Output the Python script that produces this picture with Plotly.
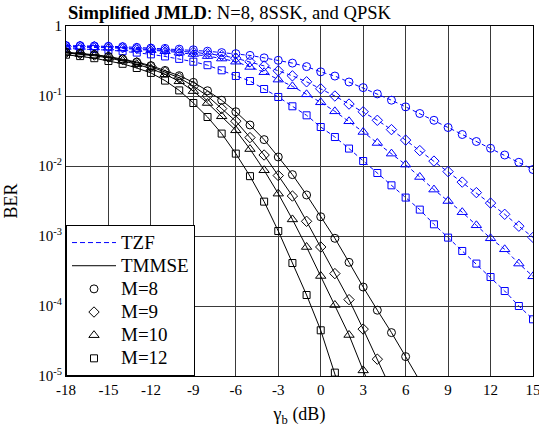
import plotly.graph_objects as go

# SNR grid (dB)
snr_db = list(range(-18, 16))

# BER values, stored as log10(BER)
tzf_m8_log = [-0.28, -0.28, -0.285, -0.29, -0.295, -0.305, -0.315, -0.32, -0.33, -0.34,
              -0.36, -0.38, -0.395, -0.42, -0.455, -0.49, -0.53, -0.58,
              -0.655, -0.715, -0.80, -0.88, -0.97, -1.06, -1.155, -1.25, -1.347, -1.45,
              -1.55, -1.65, -1.747, -1.843, -1.947, -2.05]
tzf_m9_log = [-0.29, -0.29, -0.295, -0.30, -0.31, -0.32, -0.33, -0.345, -0.36, -0.375,
              -0.395, -0.42, -0.46, -0.51, -0.57, -0.64, -0.712, -0.797,
              -0.897, -1.0, -1.115, -1.225, -1.347, -1.48, -1.63, -1.78, -1.93, -2.08,
              -2.23, -2.38, -2.53, -2.69, -2.86, -3.02]
tzf_m10_log = [-0.30, -0.30, -0.305, -0.31, -0.32, -0.33, -0.345, -0.36, -0.38, -0.40,
               -0.43, -0.465, -0.51, -0.585, -0.66, -0.766, -0.861, -0.976,
               -1.09, -1.219, -1.361, -1.514, -1.671, -1.823, -1.98, -2.157, -2.337, -2.5,
               -2.66, -2.847, -3.033, -3.19, -3.394, -3.576]
tzf_m12_log = [-0.32, -0.325, -0.33, -0.345, -0.36, -0.38, -0.405, -0.435, -0.47, -0.51,
               -0.56, -0.633, -0.714, -0.786, -0.90, -1.014, -1.147, -1.276,
               -1.443, -1.586, -1.751, -1.929, -2.1, -2.276, -2.451, -2.623, -2.833, -3.023,
               -3.214, -3.394, -3.586, -3.786, -4.0, -4.19]

tmmse_m8_log = [-0.375, -0.39, -0.41, -0.435, -0.47, -0.515, -0.566, -0.635, -0.71, -0.805,
                -0.925, -1.061, -1.225, -1.414, -1.623, -1.871, -2.123, -2.414,
                -2.725, -3.033, -3.376, -3.729, -4.06, -4.38, -4.723, -5.07]
tmmse_m9_log = [-0.38, -0.395, -0.415, -0.445, -0.48, -0.525, -0.58, -0.655, -0.74, -0.86,
                -1.0, -1.18, -1.36, -1.594, -1.843, -2.137, -2.429, -2.79,
                -3.157, -3.537, -3.909, -4.33, -4.76, -5.2]
tmmse_m10_log = [-0.385, -0.40, -0.425, -0.455, -0.495, -0.545, -0.61, -0.69, -0.79, -0.93,
                 -1.1, -1.29, -1.49, -1.758, -2.061, -2.395, -2.763, -3.157,
                 -3.571, -3.986, -4.414, -4.92, -5.4]
tmmse_m12_log = [-0.41, -0.43, -0.46, -0.50, -0.54, -0.60, -0.67, -0.78, -0.92, -1.10,
                 -1.30, -1.537, -1.823, -2.145, -2.509, -2.929, -3.386, -3.843,
                 -4.347, -4.952, -5.6]

x_ticks = [-18, -15, -12, -9, -6, -3, 0, 3, 6, 9, 12, 15]
y_tickvals = [1e-5, 1e-4, 1e-3, 1e-2, 1e-1, 1]
y_ticktext = ["10<sup>-5</sup>", "10<sup>-4</sup>", "10<sup>-3</sup>",
              "10<sup>-2</sup>", "10<sup>-1</sup>", "1"]

series_labels = ["M=8", "M=9", "M=10", "M=12"]
symbols = ["circle-open", "diamond-open", "triangle-up-open", "square-open"]
msizes = [8, 8, 9, 7]

FONT = "Liberation Serif, Times New Roman, serif"
BLUE = "#0000ff"

fig = go.Figure()

tzf_sets = [tzf_m8_log, tzf_m9_log, tzf_m10_log, tzf_m12_log]
mmse_sets = [tmmse_m8_log, tmmse_m9_log, tmmse_m10_log, tmmse_m12_log]

for vals, sym, ms in zip(tzf_sets, symbols, msizes):
    fig.add_trace(go.Scatter(
        x=snr_db[:len(vals)], y=[10 ** v for v in vals], mode="lines+markers",
        line=dict(color=BLUE, width=1, dash="4px,3px"),
        marker=dict(symbol=sym, size=ms, color=BLUE, line=dict(width=1, color=BLUE)),
        showlegend=False))

for vals, sym, ms in zip(mmse_sets, symbols, msizes):
    fig.add_trace(go.Scatter(
        x=snr_db[:len(vals)], y=[10 ** v for v in vals], mode="lines+markers",
        line=dict(color="black", width=1),
        marker=dict(symbol=sym, size=ms, color="black", line=dict(width=1, color="black")),
        showlegend=False))


def big(txt):
    return '<span style="font-size:19px">' + txt + '</span>'


# legend entries
fig.add_trace(go.Scatter(x=[None], y=[None], mode="lines", name=big("TZF"),
                         line=dict(color=BLUE, width=1, dash="5px,3px")))
fig.add_trace(go.Scatter(x=[None], y=[None], mode="lines", name=big("TMMSE"),
                         line=dict(color="black", width=1)))
for lab, sym, ms in zip(series_labels, symbols, msizes):
    fig.add_trace(go.Scatter(x=[None], y=[None], mode="markers", name=big(lab),
                             marker=dict(symbol=sym, size=ms, color="black",
                                         line=dict(width=1, color="black"))))

axis_common = dict(showline=True, linecolor="black", linewidth=1, mirror=True,
                   showgrid=True, gridcolor="#3a3a3a", gridwidth=1,
                   ticks="", zeroline=False, automargin=False,
                   ticklabeloverflow="allow",
                   tickfont=dict(family=FONT, size=15, color="black"))

fig.update_xaxes(range=[-18, 15], tickvals=x_ticks, ticktext=[str(t) for t in x_ticks],
                 title=dict(text="γ<sub>b</sub> (dB)", font=dict(family=FONT, size=18, color="black"),
                            standoff=14),
                 **axis_common)
fig.update_yaxes(type="log", range=[-5, 0], tickvals=y_tickvals, ticktext=y_ticktext,
                 title=dict(text="BER", font=dict(family=FONT, size=18, color="black"),
                            standoff=15),
                 **axis_common)

fig.add_annotation(x=0, y=1, xref="paper", yref="paper", xanchor="left", yanchor="bottom",
                   xshift=0, yshift=1, showarrow=False,
                   text="<b>Simplified JMLD</b>: N=8, 8SSK, and QPSK",
                   font=dict(family=FONT, size=18.6, color="black"))

fig.update_layout(
    width=539, height=427,
    margin=dict(l=66, r=6, t=26, b=51),
    paper_bgcolor="white", plot_bgcolor="white",
    font=dict(family=FONT, color="black"),
    showlegend=True, hovermode=False,
    legend=dict(x=0, y=0, xanchor="left", yanchor="bottom",
                bgcolor="white", bordercolor="black", borderwidth=1,
                font=dict(family=FONT, size=15.5, color="black"),
                itemwidth=44, tracegroupgap=0),
)

fig.write_html("out.html", config={"displayModeBar": False},
               post_script="document.body.style.margin='0';")
